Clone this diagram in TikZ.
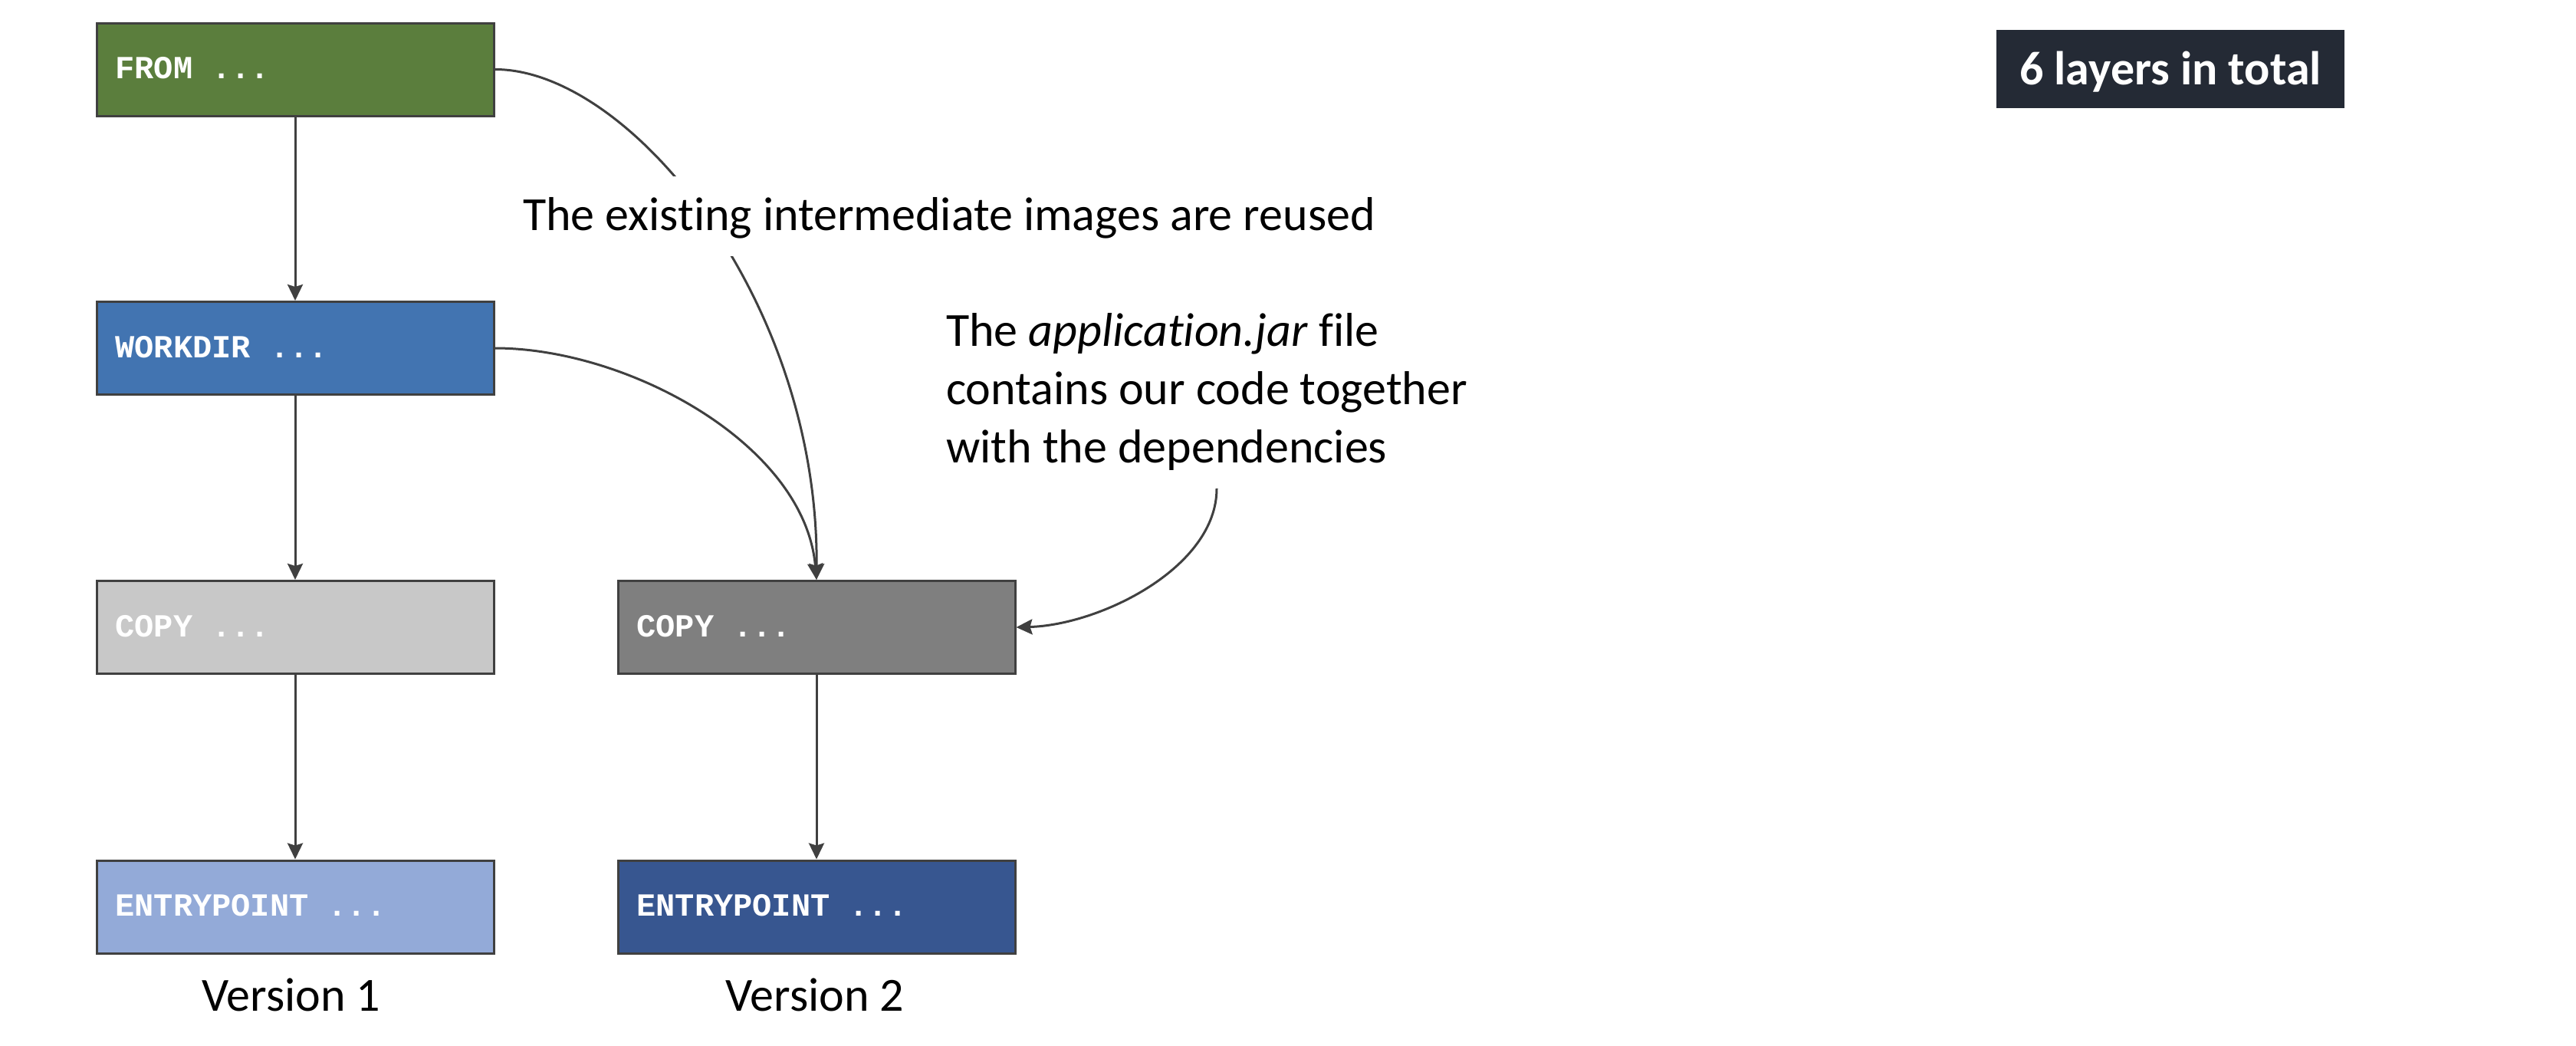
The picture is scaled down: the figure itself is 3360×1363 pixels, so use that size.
\documentclass[tikz,border=0pt]{standalone}
\usepackage{fontspec}
\setmainfont{Carlito}[Ligatures={NoCommon,NoContextual}]
\newfontfamily\codefont{Liberation Mono}
\usetikzlibrary{arrows.meta}
\definecolor{cfrom}{HTML}{5B7E3D}
\definecolor{cwork}{HTML}{4274B1}
\definecolor{ccopya}{HTML}{C8C8C8}
\definecolor{ccopyb}{HTML}{7F7F7F}
\definecolor{centa}{HTML}{93AAD8}
\definecolor{centb}{HTML}{375690}
\definecolor{cborder}{HTML}{404040}
\definecolor{carrow}{HTML}{404040}
\definecolor{cbadge}{HTML}{242A35}
\begin{document}
\begin{tikzpicture}[x=1pt,y=-1pt,
  layer/.style={draw=cborder, line width=3pt, minimum width=518pt, minimum height=121pt,
    inner sep=0pt, text=white, text height=24pt, text depth=0pt,
    font=\codefont\bfseries\fontsize{42}{50}\selectfont},
  conn/.style={draw=carrow, line width=3pt, -{Stealth[length=21pt,width=20pt,inset=3pt]}},
  note/.style={font=\fontsize{62}{76}\selectfont, inner sep=0pt}]
\useasboundingbox (0,0) rectangle (3360,1363);
% layers
\node[layer, fill=cfrom] (from) at (385,90.5) {\makebox[469pt][l]{FROM ...}};
\node[layer, fill=cwork] (workdir) at (385,454) {\makebox[469pt][l]{WORKDIR ...}};
\node[layer, fill=ccopya] (copya) at (385,818) {\makebox[469pt][l]{COPY ...}};
\node[layer, fill=centa] (entrya) at (385,1182.5) {\makebox[469pt][l]{ENTRYPOINT ...}};
\node[layer, fill=ccopyb] (copyb) at (1065,818) {\makebox[469pt][l]{COPY ...}};
\node[layer, fill=centb] (entryb) at (1065,1182.5) {\makebox[469pt][l]{ENTRYPOINT ...}};
% labels
\node[note, anchor=base] (v1) at (380,1318) {Version 1};
\node[note, anchor=base] (v2) at (1063,1318) {Version 2};
% badge
\node[fill=cbadge, minimum width=454pt, minimum height=102pt, inner sep=0pt, text=white,
  text height=45pt, text depth=5pt, font=\bfseries\fontsize{62}{76}\selectfont] (badge) at (2831,90) {6 layers in total};
% straight connectors
\draw[conn] (from.south) -- (workdir.north);
\draw[conn] (workdir.south) -- (copya.north);
\draw[conn] (copya.south) -- (entrya.north);
\draw[conn] (copyb.south) -- (entryb.north);
% curved connectors
\draw[conn] (from.east) .. controls (820,90) and (1068,390) .. (copyb.north);
\draw[conn] (workdir.east) .. controls (820,454) and (1050,580) .. (copyb.north);
\node[note, anchor=base west] (jar) at (1234,451) {\vtop{\hbox{The \textit{application.jar} file}\hbox{contains our code together}\hbox{with the dependencies}}};
\coordinate (jartail) at (1587,637);
\draw[conn] (jartail) .. controls (1587,740) and (1435,815) .. (copyb.east);
% note over the first curve
\node[note, fill=white, anchor=base west, inner xsep=10pt, inner ysep=22pt, text height=48pt, text depth=12pt] (reuse) at (672,300) {The existing intermediate images are reused};
\end{tikzpicture}
\end{document}
